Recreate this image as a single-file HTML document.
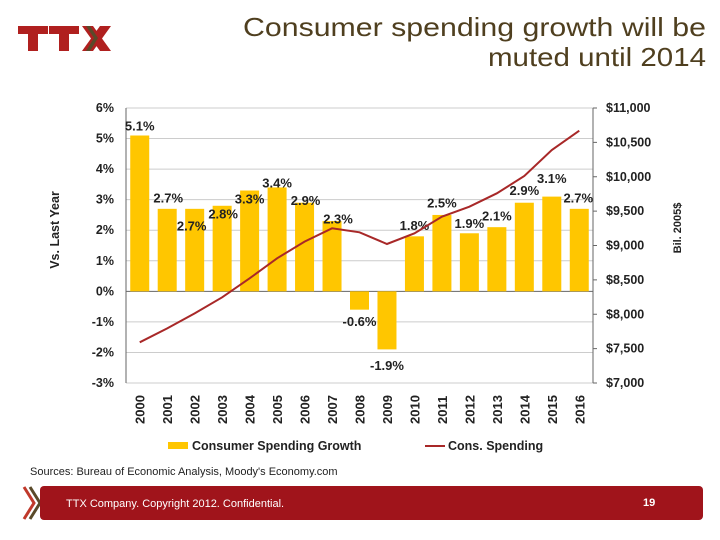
<!DOCTYPE html>
<html><head><meta charset="utf-8"><style>
body{margin:0;width:720px;height:540px;background:#fff;font-family:"Liberation Sans",sans-serif;position:relative;overflow:hidden}
</style></head><body>
<svg width="720" height="540" style="position:absolute;left:0;top:0">
  <g>
    <rect x="18" y="26" width="30" height="8" fill="#b0201f"/><rect x="28" y="26" width="10" height="25" fill="#b0201f"/>
    <rect x="49" y="26" width="30" height="8" fill="#b0201f"/><rect x="59" y="26" width="10" height="25" fill="#b0201f"/>
    <polygon points="82,26 93,26 111,51 100,51" fill="#b0201f"/>
    <polygon points="100,26 111,26 93,51 82,51" fill="#b0201f"/>
    <polygon points="86,26 90,26 98,38 90,51 86,51 94,38" fill="#5a4a2a"/>
  </g>
  <text x="706" y="36" text-anchor="end" font-size="26" textLength="463" lengthAdjust="spacingAndGlyphs" fill="#4f3f1f">Consumer spending growth will be</text>
  <text x="706" y="66" text-anchor="end" font-size="26" textLength="218" lengthAdjust="spacingAndGlyphs" fill="#4f3f1f">muted until 2014</text>
  <g id="chart"></g>
  <text x="30" y="475" font-size="11" fill="#222">Sources: Bureau of Economic Analysis, Moody's Economy.com</text>
  <g>
    <polyline points="24,487 34,503 24,519" fill="none" stroke="#c0392b" stroke-width="3"/>
    <polyline points="30,487 40,503 30,519" fill="none" stroke="#5a4a2a" stroke-width="3"/>
  </g>
  <rect x="40" y="486" width="663" height="34" rx="4" fill="#a0141b"/>
  <text x="66" y="507" font-size="11" fill="#fff">TTX Company. Copyright 2012. Confidential.</text>
  <text x="643" y="506" font-size="11" font-weight="bold" fill="#fff">19</text>
</svg>
<script>
const years=["2000","2001","2002","2003","2004","2005","2006","2007","2008","2009","2010","2011","2012","2013","2014","2015","2016"];
const growth=[5.1,2.7,2.7,2.8,3.3,3.4,2.9,2.3,-0.6,-1.9,1.8,2.5,1.9,2.1,2.9,3.1,2.7];
const spending=[7592,7795,8013,8246,8522,8814,9056,9250,9192,9022,9177,9419,9565,9759,10011,10389,10670];
const leftTicks=[6,5,4,3,2,1,0,-1,-2,-3];
const rightTicks=[11000,10500,10000,9500,9000,8500,8000,7500,7000];
const labelDy=[-9.5,-11,17,8,8.5,-4.5,-2,-2,12,16,-11,-12,-10,-11,-12,-18,-11];
const labelDx=[0,1,-3,1,0,0,1,6,0,0,0,0,0,0,0,0,-1];
const NS="http://www.w3.org/2000/svg";
const g=document.getElementById('chart');
const L=126,R=593,T=108,B=383;
const yL=v=>T+(6-v)/9*(B-T);
const yR=v=>T+(11000-v)/4000*(B-T);
const band=(R-L)/years.length;
const xC=i=>L+band*(i+0.5);
function mk(t,a){const e=document.createElementNS(NS,t);for(const k in a)e.setAttribute(k,a[k]);g.appendChild(e);return e;}
leftTicks.forEach(v=>{
 const l=mk('line',{x1:L,x2:R,y1:yL(v),y2:yL(v),stroke:v===0?'#666':'#ccc','stroke-width':1});
 
 
 const t=mk('text',{x:L-12,y:yL(v)+4,'text-anchor':'end','font-size':12.5,'font-weight':'bold',fill:'#222'});
 t.textContent=v+'%';
 
 
});
rightTicks.forEach(v=>{
 const t=mk('text',{x:R+13,y:yR(v)+4,'font-size':12.5,'font-weight':'bold',fill:'#222'});
 t.textContent='$'+v.toLocaleString('en-US');
 
 
 const k=mk('line',{x1:R,x2:R+4,y1:yR(v),y2:yR(v),stroke:'#666'});
 
 
});
let a1=mk('line',{x1:L,x2:L,y1:T,y2:B,stroke:'#666'});


let a2=mk('line',{x1:R,x2:R,y1:T,y2:B,stroke:'#666'});


const bw=19;
years.forEach((y,i)=>{
 const v=growth[i];
 const r=mk('rect',{x:xC(i)-bw/2,y:Math.min(yL(v),yL(0)),width:bw,height:Math.abs(yL(v)-yL(0)),fill:'#ffc600'});
 
 
 const t=mk('text',{x:xC(i)+labelDx[i],y:yL(v)+labelDy[i]+4.5,'text-anchor':'middle','font-size':13,'font-weight':'bold',fill:'#222'});
 t.textContent=v.toFixed(1)+'%';
 
 
 const yl=mk('text',{transform:`translate(${xC(i)+5},${B+41}) rotate(-90)`,'font-size':13,'font-weight':'bold',fill:'#222'});
 yl.textContent=y;
 
 
});
const pl=mk('polyline',{points:spending.map((v,i)=>xC(i)+','+yR(v)).join(' '),fill:'none',stroke:'#a82828','stroke-width':2});


const yt=mk('text',{transform:'translate(59,230) rotate(-90)','text-anchor':'middle','font-size':12.5,'font-weight':'bold',fill:'#222'});
yt.textContent='Vs. Last Year';


const yt2=mk('text',{transform:'translate(681,228) rotate(-90)','text-anchor':'middle','font-size':11,'font-weight':'bold',fill:'#222'});
yt2.textContent='Bil. 2005$';


const lg1=mk('rect',{x:168,y:442,width:20,height:7,fill:'#ffc600'});


const lt1=mk('text',{x:192,y:450,'font-size':12.5,'font-weight':'bold',fill:'#222'});
lt1.textContent='Consumer Spending Growth';


const lg2=mk('line',{x1:425,x2:445,y1:446,y2:446,stroke:'#a82828','stroke-width':2});


const lt2=mk('text',{x:448,y:450,'font-size':12.5,'font-weight':'bold',fill:'#222'});
lt2.textContent='Cons.  Spending';
lt2.setAttribute('xml:space','preserve');


</script>
</body></html>
